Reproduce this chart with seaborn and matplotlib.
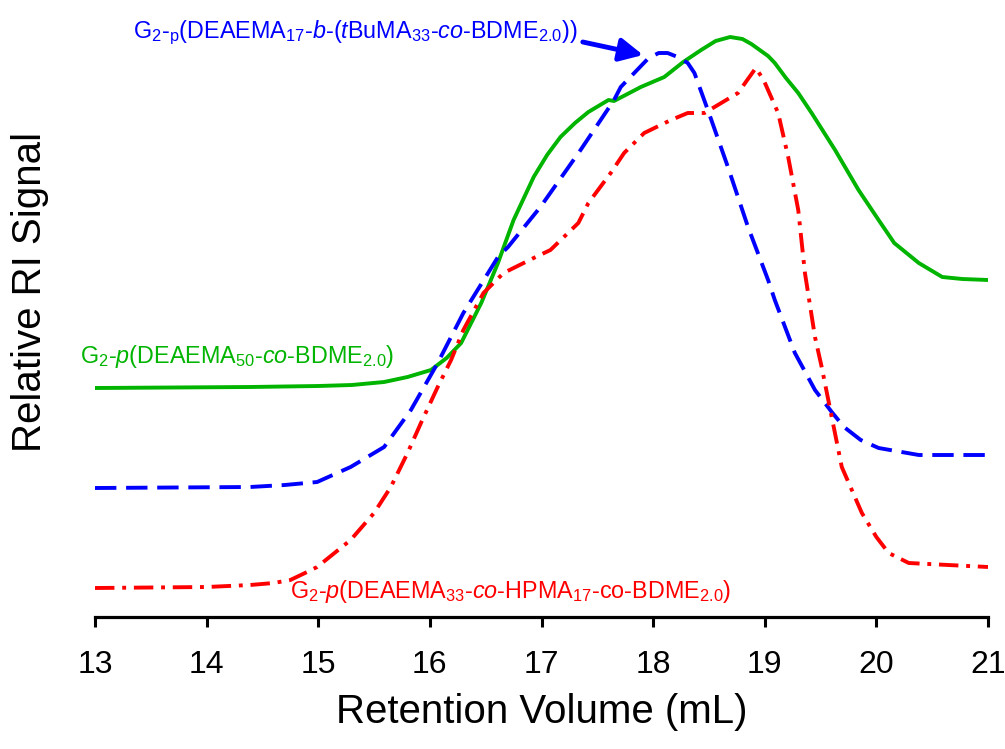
import numpy as np
import pandas as pd
import matplotlib
matplotlib.use("Agg")
import matplotlib.pyplot as plt
import seaborn as sns

# ---- data (retention volume in mL, relative RI signal in arbitrary units) ----
green_x = [13.0, 14.39, 15.0, 15.30, 15.59, 15.80, 16.01, 16.15, 16.28, 16.46, 16.61, 16.75,
           16.93, 17.05, 17.17, 17.30, 17.42, 17.60, 17.65, 17.89, 18.10, 18.27, 18.43, 18.56,
           18.69, 18.80, 18.88, 19.03, 19.09, 19.19, 19.30, 19.42, 19.63, 19.84, 20.02, 20.16,
           20.38, 20.59, 20.77, 21.0]
green_y = [2.32, 2.33, 2.34, 2.35, 2.38, 2.43, 2.50, 2.62, 2.77, 3.17, 3.57, 4.00,
           4.43, 4.65, 4.83, 4.97, 5.08, 5.20, 5.19, 5.33, 5.43, 5.58, 5.70, 5.79,
           5.83, 5.81, 5.76, 5.64, 5.57, 5.42, 5.27, 5.07, 4.70, 4.30, 4.00, 3.77,
           3.57, 3.43, 3.41, 3.40]

blue_x = [13.0, 14.39, 14.70, 14.99, 15.29, 15.59, 15.83, 16.07, 16.30, 16.61, 16.70, 16.99,
          17.35, 17.65, 17.71, 17.96, 18.05, 18.13, 18.22, 18.31, 18.37, 18.49, 18.67, 18.85,
          19.03, 19.09, 19.27, 19.45, 19.60, 19.71, 19.86, 20.02, 20.38, 21.0]
blue_y = [1.32, 1.33, 1.35, 1.38, 1.53, 1.73, 2.10, 2.57, 3.07, 3.63, 3.73, 4.13,
          4.70, 5.20, 5.33, 5.62, 5.67, 5.67, 5.63, 5.57, 5.47, 5.10, 4.53, 3.93,
          3.40, 3.20, 2.67, 2.30, 2.08, 1.93, 1.80, 1.72, 1.65, 1.65]

red_x = [13.0, 14.0, 14.39, 14.60, 14.75, 14.90, 14.99, 15.29, 15.50, 15.65, 15.80, 15.92,
         16.07, 16.19, 16.30, 16.48, 16.66, 16.93, 17.08, 17.33, 17.42, 17.62, 17.74, 17.92,
         18.16, 18.31, 18.46, 18.61, 18.76, 18.92, 18.99, 19.12, 19.21, 19.30, 19.36, 19.45,
         19.51, 19.60, 19.69, 19.87, 20.00, 20.11, 20.29, 21.0]
red_y = [0.32, 0.33, 0.35, 0.37, 0.40, 0.48, 0.53, 0.80, 1.07, 1.33, 1.67, 1.97,
         2.33, 2.60, 2.90, 3.27, 3.47, 3.62, 3.70, 3.97, 4.17, 4.47, 4.67, 4.87,
         5.00, 5.07, 5.07, 5.17, 5.27, 5.52, 5.40, 5.07, 4.63, 4.10, 3.47, 2.83,
         2.53, 2.03, 1.53, 1.07, 0.83, 0.67, 0.57, 0.53]

x_ticks = [13, 14, 15, 16, 17, 18, 19, 20, 21]

label_green = r"G$_2$-$p$(DEAEMA$_{50}$-$co$-BDME$_{2.0}$)"
label_blue = r"G$_2$-$_\mathrm{p}$(DEAEMA$_{17}$-$b$-($t$BuMA$_{33}$-$co$-BDME$_{2.0}$))"
label_red = r"G$_2$-$p$(DEAEMA$_{33}$-$co$-HPMA$_{17}$-co-BDME$_{2.0}$)"

c_green = "#00B400"
c_blue = "#0000FF"
c_red = "#FF0000"

# ---- style ----
sns.set_theme(style="white")
plt.rcParams["font.family"] = ["Liberation Sans", "DejaVu Sans"]
plt.rcParams["mathtext.fontset"] = "custom"
plt.rcParams["mathtext.rm"] = "Liberation Sans"
plt.rcParams["mathtext.it"] = "Liberation Sans:italic"
plt.rcParams["mathtext.bf"] = "Liberation Sans:bold"

fig = plt.figure(figsize=(10.05, 7.49), dpi=100)
ax = fig.add_axes([95 / 1005, 132 / 749, 893 / 1005, 600 / 749])

df_g = pd.DataFrame({"x": green_x, "y": green_y})
df_b = pd.DataFrame({"x": blue_x, "y": blue_y})
df_r = pd.DataFrame({"x": red_x, "y": red_y})

lw = 2.8
sns.lineplot(data=df_g, x="x", y="y", ax=ax, color=c_green, lw=lw, estimator=None)
sns.lineplot(data=df_b, x="x", y="y", ax=ax, color=c_blue, lw=lw, estimator=None,
             linestyle=(0, (5.5, 2.5)))
sns.lineplot(data=df_r, x="x", y="y", ax=ax, color=c_red, lw=lw, estimator=None,
             linestyle=(0, (5, 2, 1, 2)))

ax.set_xlim(13, 21)
ax.set_ylim(0.03, 6.03)
ax.set_xticks(x_ticks)
ax.set_xticklabels([str(t) for t in x_ticks])
ax.set_yticks([])

for s in ["left", "top", "right"]:
    ax.spines[s].set_visible(False)
ax.spines["bottom"].set_linewidth(2.3)
ax.spines["bottom"].set_color("black")
ax.tick_params(axis="x", direction="out", length=7, width=2.2, color="black",
               labelsize=23, labelcolor="black", pad=17, bottom=True)

ax.set_xlabel("Retention Volume (mL)", fontsize=29, labelpad=9, color="black")
ax.set_ylabel("Relative RI Signal", fontsize=29, color="black")
ax.yaxis.set_label_coords(-0.052, 0.542)

# ---- annotations ----
ax.text(12.866, 2.57, label_green, color=c_green, fontsize=16.8, ha="left", va="baseline",
        clip_on=False)
ax.text(13.34, 5.82, label_blue, color=c_blue, fontsize=16.8, ha="left", va="baseline",
        clip_on=False)
ax.text(14.746, 0.22, label_red, color=c_red, fontsize=16.8, ha="left", va="baseline",
        clip_on=False)
ax.annotate("", xy=(17.91, 5.65), xytext=(17.37, 5.78),
            arrowprops=dict(arrowstyle="-|>,head_length=0.7,head_width=0.35", color=c_blue,
                            lw=3.5, shrinkA=0, shrinkB=0, mutation_scale=20))

fig.savefig("out.png", dpi=100)
